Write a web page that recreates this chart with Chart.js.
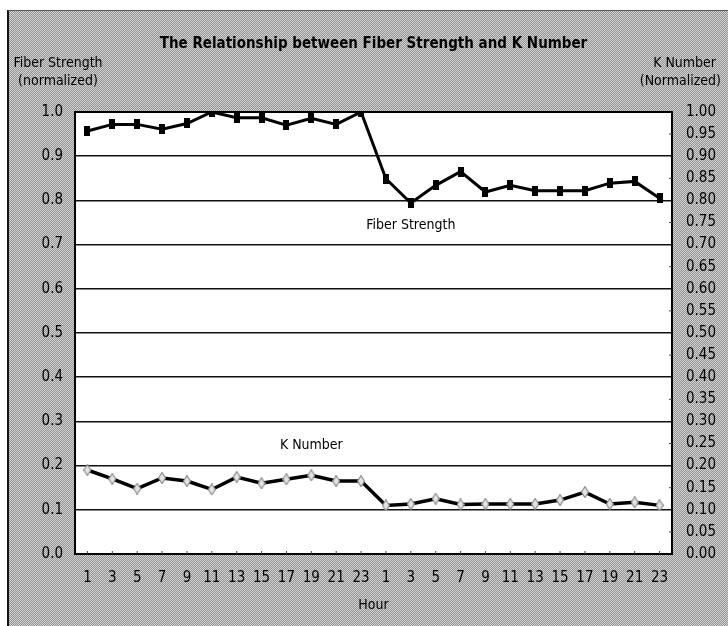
<!DOCTYPE html>
<html>
<head>
<meta charset="utf-8">
<script src="https://cdn.jsdelivr.net/npm/chart.js@4.4.1/dist/chart.umd.min.js"></script>
<style>
  html, body { margin: 0; padding: 0; background: #fff; }
  #frame {
    position: absolute; left: 7px; top: 10px; width: 721px; height: 616px;
    box-sizing: border-box;
    border-left: 2px solid #111; border-top: 1px solid #555;
    background-color: #b5b5b5;
    background-image: repeating-conic-gradient(#939393 0 25%, #d2d2d2 0 50%);
    background-size: 2px 2px;
  }
  #c { position: absolute; left: 0; top: 0; }
</style>
</head>
<body>
<div id="frame"></div>
<canvas id="c" width="728" height="626"></canvas>
<script>
const hours = ['1','3','5','7','9','11','13','15','17','19','21','23',
               '1','3','5','7','9','11','13','15','17','19','21','23'];
const fiberStrength = [0.957,0.972,0.972,0.961,0.974,1.000,0.987,0.987,0.970,0.986,0.972,1.000,
                       0.849,0.794,0.834,0.865,0.819,0.834,0.822,0.822,0.822,0.839,0.843,0.805];
const kNumber = [0.190,0.170,0.148,0.172,0.165,0.146,0.174,0.160,0.169,0.178,0.165,0.165,
                 0.110,0.113,0.125,0.112,0.113,0.113,0.113,0.122,0.140,0.113,0.117,0.110];
const titleText = 'The Relationship between Fiber Strength and K Number';
const leftAxisTitle = ['Fiber Strength', '(normalized)'];
const rightAxisTitle = ['K Number', '(Normalized)'];
const xAxisTitle = 'Hour';
const seriesLabels = ['Fiber Strength', 'K Number'];

const FONT = '"DejaVu Sans Condensed", "Liberation Sans Narrow", Arial, sans-serif';

function makeRectMarker() {
  const c = document.createElement('canvas');
  c.width = 6; c.height = 10;
  const g = c.getContext('2d');
  g.fillStyle = '#000';
  g.fillRect(0, 0, 6, 10);
  return c;
}
function makeDiamondMarker() {
  const c = document.createElement('canvas');
  c.width = 8; c.height = 12;
  const g = c.getContext('2d');
  g.beginPath();
  g.moveTo(4, 0.5); g.lineTo(7.5, 6); g.lineTo(4, 11.5); g.lineTo(0.5, 6); g.closePath();
  g.fillStyle = '#e4e4e4';
  g.fill();
  g.strokeStyle = '#8a8a8a';
  g.lineWidth = 1.2;
  g.stroke();
  return c;
}

const decor = {
  id: 'decor',
  beforeDraw(chart) {
    const { ctx, chartArea: a } = chart;
    ctx.save();
    ctx.fillStyle = '#fff';
    ctx.fillRect(a.left, a.top, a.right - a.left, a.bottom - a.top);
    ctx.restore();
  },
  afterDatasetsDraw(chart) {
    const { ctx, chartArea: a, scales } = chart;
    ctx.save();
    ctx.strokeStyle = '#000';
    ctx.lineWidth = 2;
    ctx.strokeRect(a.left, a.top, a.right - a.left, a.bottom - a.top);
    ctx.lineWidth = 1;
    ctx.strokeStyle = '#444';
    for (let i = 0; i < hours.length; i++) {
      const x = scales.x.getPixelForValue(i);
      ctx.beginPath(); ctx.moveTo(x, a.bottom); ctx.lineTo(x, a.bottom - 3); ctx.stroke();
    }
    for (let v = 0.05; v < 1; v += 0.1) {
      const y = scales.y1.getPixelForValue(v);
      ctx.beginPath(); ctx.moveTo(a.right, y); ctx.lineTo(a.right - 3, y); ctx.stroke();
    }
    ctx.fillStyle = '#000';
    ctx.font = '14px ' + FONT;
    ctx.textAlign = 'center';
    ctx.textBaseline = 'middle';
    ctx.fillText(seriesLabels[0], scales.x.getPixelForValue(13), scales.y.getPixelForValue(0.744));
    ctx.fillText(seriesLabels[1], scales.x.getPixelForValue(9), scales.y.getPixelForValue(0.245));
    ctx.font = 'bold 15px ' + FONT;
    ctx.fillText(titleText, (a.left + a.right) / 2, 44);
    ctx.font = '14px ' + FONT;
    ctx.fillText(leftAxisTitle[0], 58, 63);
    ctx.fillText(leftAxisTitle[1], 58, 81);
    ctx.textAlign = 'right';
    ctx.fillText(rightAxisTitle[0], 716, 63);
    ctx.fillText(rightAxisTitle[1], 721, 81);
    ctx.restore();
  }
};

new Chart(document.getElementById('c'), {
  type: 'line',
  data: {
    labels: hours,
    datasets: [
      {
        label: seriesLabels[0], data: fiberStrength, yAxisID: 'y',
        borderColor: '#000', borderWidth: 3, tension: 0,
        pointStyle: makeRectMarker(), pointRadius: 5
      },
      {
        label: seriesLabels[1], data: kNumber, yAxisID: 'y1',
        borderColor: '#000', borderWidth: 3.5, tension: 0,
        pointStyle: makeDiamondMarker(), pointRadius: 5
      }
    ]
  },
  options: {
    responsive: false,
    animation: false,
    devicePixelRatio: 1,
    layout: { padding: { top: 112, left: 0, right: 0, bottom: 0 } },
    plugins: { legend: { display: false }, title: { display: false }, tooltip: { enabled: false } },
    scales: {
      x: {
        type: 'category', offset: true,
        grid: { display: false, drawTicks: false },
        border: { display: false },
        ticks: { color: '#000', font: { family: FONT, size: 15 }, maxRotation: 0, autoSkip: false, padding: 15 },
        title: { display: true, text: xAxisTitle, color: '#000', font: { family: FONT, size: 14 }, padding: { top: 4, bottom: 12 } },
        afterFit(s) { s.height = 72; }
      },
      y: {
        position: 'left', min: 0, max: 1,
        grid: { color: '#111', lineWidth: 1.5, drawTicks: false },
        border: { display: false },
        ticks: { stepSize: 0.1, color: '#000', font: { family: FONT, size: 15 }, padding: 12,
                 callback: v => v.toFixed(1) },
        afterFit(s) { s.width = 75; }
      },
      y1: {
        position: 'right', min: 0, max: 1,
        grid: { display: false, drawTicks: false },
        border: { display: false },
        ticks: { stepSize: 0.05, color: '#000', font: { family: FONT, size: 15 }, padding: 14,
                 callback: v => v.toFixed(2) },
        afterFit(s) { s.width = 56; }
      }
    }
  },
  plugins: [decor]
});
</script>
</body>
</html>
